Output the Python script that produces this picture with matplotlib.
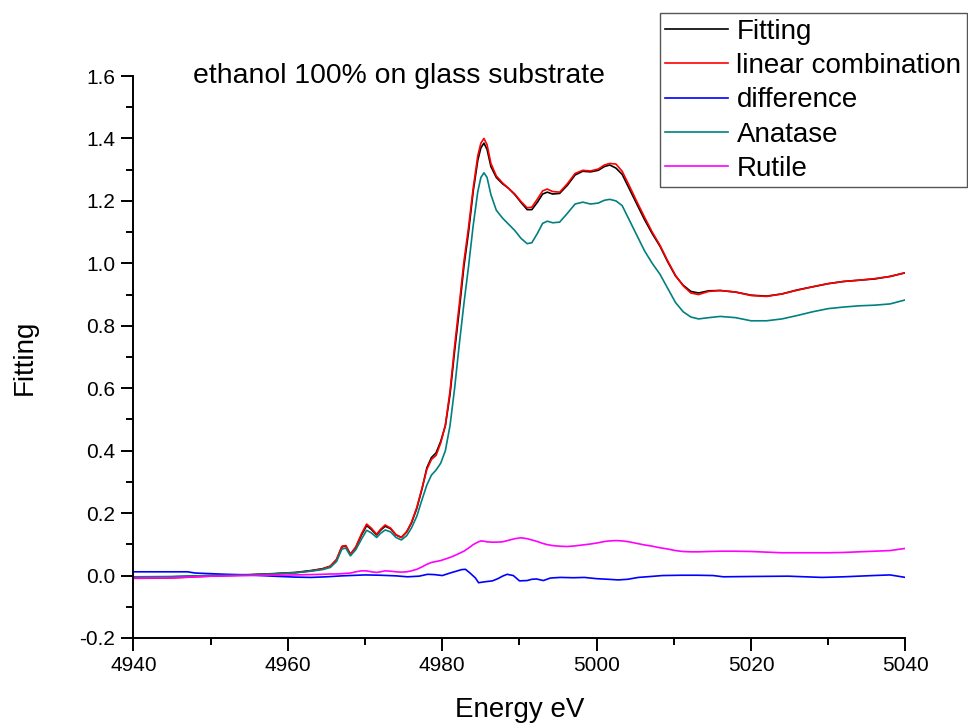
import matplotlib
matplotlib.use("Agg")
import matplotlib.pyplot as plt
from matplotlib.ticker import MultipleLocator, FormatStrFormatter

plt.rcParams['font.family'] = ['Liberation Sans', 'DejaVu Sans']

# Energy grid (eV) shared by the spectra
energy = [
    4940, 4945, 4950, 4955, 4958, 4961, 4963, 4964.5, 4965.5, 4966.3,
    4967.0, 4967.5, 4968.1, 4968.8, 4969.5, 4970.2, 4970.8, 4971.5, 4972.0, 4972.6,
    4973.3, 4974.0, 4974.7, 4975.4, 4976.0, 4976.7, 4977.4, 4978.0, 4978.6, 4979.2,
    4979.8, 4980.4, 4981.0, 4981.6, 4982.2, 4982.8, 4983.4, 4984.0, 4984.6, 4985.0,
    4985.4, 4985.8, 4986.3, 4987.0, 4987.8, 4988.6, 4989.4, 4990.2, 4991.0, 4991.6,
    4992.3, 4993.0, 4993.6, 4994.3, 4995.2, 4996.2, 4997.2, 4998.2, 4999.2, 5000.2,
    5001.0, 5001.7, 5002.5, 5003.3, 5004.2, 5005.2, 5006.2, 5007.2, 5008.2, 5009.2,
    5010.2, 5011.2, 5012.2, 5013.2, 5014.5, 5016, 5018, 5020, 5022, 5024,
    5026, 5028, 5030, 5032, 5034, 5036, 5038, 5040,
]

fitting = [
    -0.005, -0.004, 0.000, 0.003, 0.006, 0.010, 0.016, 0.022, 0.030, 0.050,
    0.092, 0.095, 0.068, 0.090, 0.128, 0.160, 0.148, 0.130, 0.145, 0.158,
    0.150, 0.130, 0.122, 0.140, 0.168, 0.215, 0.280, 0.345, 0.378, 0.393,
    0.430, 0.480, 0.580, 0.720, 0.850, 0.990, 1.100, 1.230, 1.330, 1.370,
    1.385, 1.365, 1.310, 1.275, 1.255, 1.240, 1.220, 1.195, 1.172, 1.172,
    1.195, 1.222, 1.228, 1.222, 1.224, 1.250, 1.283, 1.295, 1.293, 1.298,
    1.310, 1.315, 1.305, 1.285, 1.240, 1.190, 1.140, 1.095, 1.055, 1.005,
    0.960, 0.930, 0.910, 0.905, 0.912, 0.913, 0.908, 0.898, 0.895, 0.902,
    0.915, 0.925, 0.935, 0.942, 0.946, 0.950, 0.958, 0.970,
]

linear_combination = [
    -0.009, -0.008, -0.002, 0.002, 0.005, 0.009, 0.015, 0.021, 0.030, 0.052,
    0.094, 0.096, 0.068, 0.092, 0.132, 0.165, 0.152, 0.132, 0.148, 0.162,
    0.152, 0.131, 0.122, 0.141, 0.170, 0.218, 0.282, 0.340, 0.372, 0.385,
    0.425, 0.482, 0.590, 0.735, 0.868, 1.005, 1.115, 1.240, 1.345, 1.385,
    1.400, 1.380, 1.320, 1.280, 1.258, 1.240, 1.222, 1.198, 1.178, 1.180,
    1.205, 1.232, 1.238, 1.230, 1.228, 1.255, 1.288, 1.298, 1.296, 1.302,
    1.315, 1.320, 1.318, 1.295, 1.250, 1.198, 1.148, 1.100, 1.058, 1.008,
    0.962, 0.928, 0.905, 0.900, 0.910, 0.913, 0.908, 0.897, 0.894, 0.902,
    0.914, 0.925, 0.935, 0.942, 0.946, 0.951, 0.958, 0.970,
]

anatase = [
    -0.004, -0.003, 0.000, 0.002, 0.005, 0.009, 0.014, 0.019, 0.026, 0.045,
    0.085, 0.088, 0.063, 0.083, 0.115, 0.145, 0.137, 0.122, 0.135, 0.146,
    0.140, 0.122, 0.114, 0.128, 0.152, 0.190, 0.245, 0.290, 0.322, 0.338,
    0.360, 0.400, 0.480, 0.600, 0.740, 0.870, 0.990, 1.120, 1.230, 1.275,
    1.290, 1.275, 1.220, 1.170, 1.145, 1.125, 1.105, 1.080, 1.063, 1.066,
    1.095, 1.128, 1.135, 1.130, 1.132, 1.160, 1.190, 1.196, 1.190, 1.193,
    1.202, 1.205, 1.200, 1.185, 1.140, 1.090, 1.040, 1.000, 0.965, 0.920,
    0.875, 0.845, 0.828, 0.822, 0.826, 0.830, 0.826, 0.816, 0.816, 0.822,
    0.833, 0.845, 0.855, 0.860, 0.864, 0.866, 0.870, 0.883,
]

rutile = [
    -0.008, -0.007, -0.002, 0.000, 0.001, 0.002, 0.003, 0.004, 0.005, 0.005,
    0.006, 0.007, 0.008, 0.012, 0.015, 0.015, 0.012, 0.010, 0.012, 0.015,
    0.014, 0.012, 0.011, 0.012, 0.015, 0.020, 0.028, 0.036, 0.042, 0.045,
    0.048, 0.053, 0.058, 0.064, 0.071, 0.078, 0.088, 0.099, 0.107, 0.111,
    0.110, 0.108, 0.107, 0.107, 0.108, 0.113, 0.118, 0.121, 0.118, 0.114,
    0.109, 0.103, 0.099, 0.096, 0.094, 0.093, 0.095, 0.098, 0.101, 0.105,
    0.109, 0.111, 0.112, 0.111, 0.108, 0.103, 0.098, 0.094, 0.089, 0.085,
    0.080, 0.077, 0.076, 0.076, 0.077, 0.078, 0.078, 0.077, 0.075, 0.073,
    0.073, 0.073, 0.073, 0.074, 0.076, 0.078, 0.080, 0.087,
]

# Residual is sampled on its own grid
diff_energy = [
    4940, 4947, 4948, 4952, 4955, 4958, 4961, 4963, 4965, 4967,
    4970, 4972, 4974, 4975.5, 4977, 4978.1, 4979, 4980, 4981, 4982.5,
    4983, 4983.6, 4984.3, 4984.7, 4985.5, 4986.5, 4987.2, 4987.8, 4988.4, 4989.2,
    4990, 4991, 4991.6, 4992.2, 4993.1, 4994, 4995.3, 4997, 4998.4, 5000,
    5001.5, 5002.8, 5004, 5005.4, 5007, 5008.5, 5011, 5013, 5015.1, 5016.4,
    5020, 5024.8, 5027, 5029.2, 5032, 5035.8, 5038, 5040,
]
difference = [
    0.012, 0.012, 0.008, 0.004, 0.002, -0.002, -0.005, -0.006, -0.004, -0.001,
    0.002, 0.001, -0.001, -0.004, -0.002, 0.004, 0.003, 0.000, 0.008, 0.019,
    0.020, 0.008, -0.008, -0.023, -0.020, -0.017, -0.010, -0.002, 0.004, 0.000,
    -0.017, -0.016, -0.012, -0.011, -0.016, -0.008, -0.006, -0.007, -0.006, -0.010,
    -0.012, -0.014, -0.012, -0.006, -0.003, 0.000, 0.001, 0.001, 0.000, -0.004,
    -0.003, -0.002, -0.004, -0.006, -0.004, 0.000, 0.002, -0.006,
]

fig = plt.figure(figsize=(9.68, 7.24), dpi=100)
ax = fig.add_axes([0.1379, 0.1188, 0.7975, 0.7762])

lw = 1.2
ax.plot(energy, fitting, color='black', lw=lw, label='Fitting')
ax.plot(energy, linear_combination, color='#ff0000', lw=lw, label='linear combination')
ax.plot(diff_energy, difference, color='#0000ff', lw=lw, label='difference')
ax.plot(energy, anatase, color='#008080', lw=lw, label='Anatase')
ax.plot(energy, rutile, color='#ff00ff', lw=lw, label='Rutile')

ax.set_xlim(4940, 5040)
ax.set_ylim(-0.2, 1.6)
ax.xaxis.set_major_locator(MultipleLocator(20))
ax.xaxis.set_minor_locator(MultipleLocator(10))
ax.yaxis.set_major_locator(MultipleLocator(0.2))
ax.yaxis.set_minor_locator(MultipleLocator(0.1))
ax.yaxis.set_major_formatter(FormatStrFormatter('%.1f'))

for side in ('top', 'right'):
    ax.spines[side].set_visible(False)
for side in ('left', 'bottom'):
    ax.spines[side].set_linewidth(1.4)

ax.tick_params(which='major', direction='out', length=9, width=1.4, labelsize=15, pad=4)
ax.tick_params(which='minor', direction='out', length=5, width=1.4)

ax.set_xlabel('Energy eV', fontsize=20, va='center')
ax.set_ylabel('Fitting', fontsize=20, va='center', ha='center')
ax.xaxis.set_label_coords(0.5, -0.128)
ax.yaxis.set_label_coords(-0.1405, 0.5)

ax.text(0.077, 1.0, 'ethanol 100% on glass substrate', transform=ax.transAxes,
        fontsize=20.4, va='center', ha='left', clip_on=False)

leg = fig.legend(loc='upper right', bbox_to_anchor=(0.999, 0.982), fontsize=20,
                 frameon=True, fancybox=False, framealpha=1, edgecolor='#555555',
                 handlelength=2.27, handletextpad=0.3, labelspacing=0.30,
                 borderpad=0.2, borderaxespad=0)
leg.get_frame().set_linewidth(1.0)

fig.savefig('out.png', dpi=100)
